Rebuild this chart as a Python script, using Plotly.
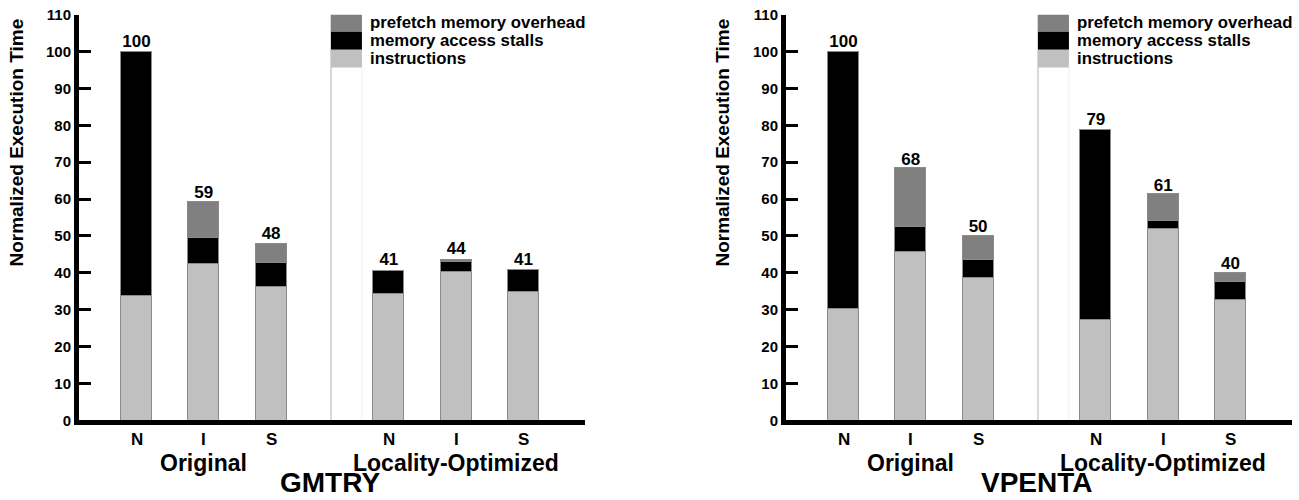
import plotly.graph_objects as go

# ---- data ----
bar_labels = ["N", "I", "S", "N", "I", "S"]
bar_pos = [0, 1, 2, 3.75, 4.75, 5.75]
groups = ["Original", "Locality-Optimized"]
group_pos = [1, 4.75]
benchmarks = ["GMTRY", "VPENTA"]
series_names = ["instructions", "memory access stalls", "prefetch memory overhead"]
series_colors = ["#c0c0c0", "#000000", "#808080"]

gmtry_instructions = [33.7, 42.5, 36.3, 34.3, 40.3, 34.9]
gmtry_stalls = [66.3, 7.0, 6.4, 6.3, 2.8, 6.0]
gmtry_overhead = [0, 9.8, 5.3, 0, 0.5, 0]
gmtry_totals = [100, 59, 48, 41, 44, 41]

vpenta_instructions = [30.3, 45.6, 38.7, 27.3, 51.9, 32.7]
vpenta_stalls = [69.7, 6.8, 4.8, 51.5, 2.3, 4.8]
vpenta_overhead = [0, 16.0, 6.6, 0, 7.2, 2.4]
vpenta_totals = [100, 68, 50, 79, 61, 40]

y_ticks = list(range(0, 111, 10))

panels = [
    (gmtry_instructions, gmtry_stalls, gmtry_overhead, gmtry_totals),
    (vpenta_instructions, vpenta_stalls, vpenta_overhead, vpenta_totals),
]

FONT = "Liberation Sans, Arial, Helvetica, sans-serif"
W, H = 1299, 500

# vertical placement helper: target pixel (from top) -> paper fraction,
# compensating the vertical squeeze observed in the captured picture
V_SCALE, V_OFF = 0.967, 8.3


def py(px):
    return 1 - ((px - V_OFF) / V_SCALE) / H


fig = go.Figure()

x_domains = [[79 / W, 585 / W], [786 / W, 1292 / W]]
y_domain = [py(420), py(14)]
x_range = [-0.855, 6.665]

for i, (ins, st, ov, tot) in enumerate(panels):
    xa = "x" if i == 0 else "x2"
    ya = "y" if i == 0 else "y2"
    for vals, name, col in zip((ins, st, ov), series_names, series_colors):
        fig.add_trace(go.Bar(
            x=bar_pos, y=vals, name=name, xaxis=xa, yaxis=ya,
            width=0.46, marker=dict(color=col, line=dict(color="#8a8a8a", width=1)),
            showlegend=False, hoverinfo="skip",
        ))
    fig.add_trace(go.Scatter(
        x=bar_pos, y=tot, mode="text", text=[str(t) for t in tot],
        textposition="top center", xaxis=xa, yaxis=ya,
        textfont=dict(family=FONT, size=17, color="black", weight="bold"),
        showlegend=False, hoverinfo="skip", cliponaxis=False,
    ))

    # custom legend: stacked swatches above a white column
    lx0, lx1 = 2.89, 3.35
    edges = [110.3, 105.4, 100.5, 95.7]
    sw_cols = [series_colors[2], series_colors[1], series_colors[0]]
    sw_names = [series_names[2], series_names[1], series_names[0]]
    fig.add_shape(type="line", xref=xa, yref=ya, x0=lx0, x1=lx0, y0=0, y1=edges[0],
                  line=dict(color="#b4b4b4", width=1))
    fig.add_shape(type="line", xref=xa, yref=ya, x0=lx1, x1=lx1, y0=0, y1=edges[3],
                  line=dict(color="#f0f0f0", width=1))
    for k in range(3):
        fig.add_shape(type="rect", xref=xa, yref=ya, x0=lx0, x1=lx1,
                      y0=edges[k + 1], y1=edges[k], fillcolor=sw_cols[k],
                      line=dict(width=0), layer="above")
        fig.add_annotation(xref=xa, yref=ya, x=3.44, y=(edges[k] + edges[k + 1]) / 2,
                           text=sw_names[k], showarrow=False, xanchor="left",
                           yanchor="middle",
                           font=dict(family=FONT, size=16.8, color="black", weight="bold"))

    for lab, bp in zip(bar_labels, bar_pos):
        fig.add_annotation(xref=xa, yref="paper", x=bp, y=py(439), text=lab,
                           showarrow=False, xanchor="center", yanchor="middle",
                           font=dict(family=FONT, size=17, color="black", weight="bold"))
    for g, gp in zip(groups, group_pos):
        fig.add_annotation(xref=xa, yref="paper", x=gp, y=py(463), text=g,
                           showarrow=False, xanchor="center", yanchor="middle",
                           font=dict(family=FONT, size=23, color="black", weight="bold"))
    fig.add_annotation(xref=xa, yref="paper", x=2.875, y=py(482), text=benchmarks[i],
                       showarrow=False, xanchor="center", yanchor="middle",
                       font=dict(family=FONT, size=28, color="black", weight="bold"))
    ytitle_x = 17 if i == 0 else 723
    fig.add_annotation(xref="paper", yref="paper", x=ytitle_x / W, y=py(142),
                       text="Normalized Execution Time", textangle=-90, showarrow=False,
                       xanchor="center", yanchor="middle",
                       font=dict(family=FONT, size=19, color="black", weight="bold"))

axis_common_x = dict(range=x_range, showline=True, linewidth=5, linecolor="black",
                     ticks="", showticklabels=False, showgrid=False,
                     zeroline=False, fixedrange=True)
axis_common_y = dict(range=[0, 110], showline=True, linewidth=5, linecolor="black",
                     ticks="inside", ticklen=12, tickwidth=3, tickcolor="black",
                     tickvals=y_ticks, showgrid=False, zeroline=False, fixedrange=True,
                     domain=y_domain, ticklabeloverflow="allow",
                     tickfont=dict(family=FONT, size=15, color="black", weight="bold"))

fig.update_layout(
    width=W, height=H,
    margin=dict(l=0, r=0, t=0, b=0),
    paper_bgcolor="white", plot_bgcolor="white",
    barmode="stack", bargap=0,
    showlegend=False,
)
fig.update_layout(
    xaxis=dict(domain=x_domains[0], anchor="y", **axis_common_x),
    xaxis2=dict(domain=x_domains[1], anchor="y2", **axis_common_x),
    yaxis=dict(anchor="x", **axis_common_y),
    yaxis2=dict(anchor="x2", **axis_common_y),
)

page_js = (
    "var gd=document.getElementById('{plot_id}');"
    "gd.style.position='fixed';gd.style.top='0px';gd.style.left='0px';"
    "document.documentElement.style.margin='0';document.body.style.margin='0';"
    "document.documentElement.style.overflow='hidden';document.body.style.overflow='hidden';"
)

fig.write_html("out.html", config={"displayModeBar": False}, post_script=page_js)
